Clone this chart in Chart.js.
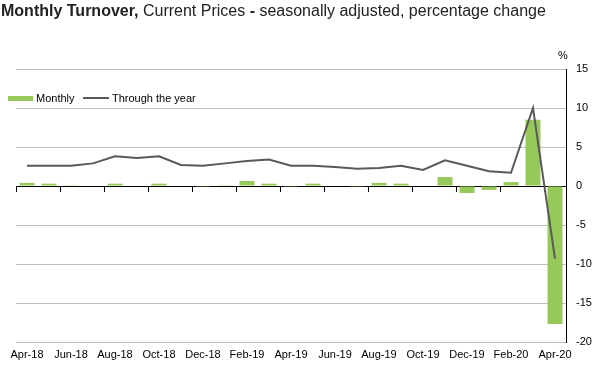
<!DOCTYPE html>
<html>
<head>
<meta charset="utf-8">
<script src="https://cdn.jsdelivr.net/npm/chart.js@4.4.0/dist/chart.umd.min.js"></script>
<style>
  body { margin: 0; background: #fff; font-family: "Liberation Sans", Arial, sans-serif; }
  #wrap { position: relative; width: 616px; height: 371px; overflow: hidden; }
  #chart { position: absolute; left: 0; top: 0; }
  #title { position: absolute; left: 1px; top: 2px; font-size: 16px; line-height: 18px; color: #222; white-space: nowrap; }
  #title b { font-weight: bold; }
  #unit { position: absolute; left: 558px; top: 49px; font-size: 11px; line-height: 12px; color: #000; }
  .lg { position: absolute; font-size: 11px; line-height: 12px; color: #000; white-space: nowrap; }
  .sw { position: absolute; }
</style>
</head>
<body>
<div id="wrap">
  <canvas id="chart" width="616" height="371"></canvas>
  <div id="title"><b>Monthly Turnover,</b> Current Prices <b>-</b> seasonally adjusted, percentage change</div>
  <div id="unit">%</div>
  <div class="sw" style="left:8px;top:96px;width:25px;height:5px;background:#96c85a"></div>
  <div class="lg" style="left:36px;top:92px">Monthly</div>
  <div class="sw" style="left:83px;top:97px;width:26px;height:2px;background:#595959"></div>
  <div class="lg" style="left:112px;top:92px">Through the year</div>
</div>
<script>
// months shown on the axis
const months = ['Apr-18','May-18','Jun-18','Jul-18','Aug-18','Sep-18','Oct-18','Nov-18','Dec-18',
  'Jan-19','Feb-19','Mar-19','Apr-19','May-19','Jun-19','Jul-19','Aug-19','Sep-19','Oct-19','Nov-19','Dec-19',
  'Jan-20','Feb-20','Mar-20','Apr-20'];

// monthly % change (bars)
const monthly = [0.4, 0.3, 0.1, 0, 0.3, 0, 0.3, 0, -0.1, 0.1, 0.65, 0.3, -0.1,
  0.3, 0, -0.1, 0.4, 0.3, 0, 1.15, -0.9, -0.5, 0.5, 8.5, -17.7];

// through the year % change (line)
const throughYear = [2.6, 2.6, 2.6, 2.9, 3.8, 3.6, 3.8, 2.7, 2.6, 2.9, 3.2, 3.4, 2.6,
  2.6, 2.45, 2.2, 2.3, 2.6, 2.05, 3.3, 2.6, 1.9, 1.7, 10.0, -9.3];

const yMin = -20, yMax = 15, yStep = 5;

const tickFont = { family: '"Liberation Sans", Arial, sans-serif', size: 11 };

new Chart(document.getElementById('chart'), {
  data: {
    labels: months,
    datasets: [
      { type: 'line', label: 'Through the year', data: throughYear, borderColor: '#595959', borderWidth: 2,
        pointRadius: 0, tension: 0, order: 0, xAxisID: 'x', yAxisID: 'y' },
      { type: 'bar', label: 'Monthly', data: monthly, backgroundColor: '#96c85a', borderWidth: 0,
        barPercentage: 0.68, categoryPercentage: 1, order: 1, xAxisID: 'x', yAxisID: 'y' }
    ]
  },
  options: {
    responsive: false,
    animation: false,
    layout: { padding: { left: 16, top: 69, right: 0, bottom: 0 } },
    plugins: { legend: { display: false }, tooltip: { enabled: false } },
    scales: {
      x: {
        type: 'category',
        position: { y: 0 },
        offset: true,
        grid: { drawOnChartArea: false, offset: true, tickLength: 5, tickWidth: 1,
          tickColor: c => c.index % 2 === 0 ? '#000' : 'rgba(0,0,0,0)' },
        border: { color: '#000', width: 1 },
        ticks: { display: false, autoSkip: false }
      },
      xl: {
        type: 'category',
        position: 'bottom',
        offset: true,
        grid: { display: false, drawTicks: false },
        border: { display: false },
        ticks: { autoSkip: false, maxRotation: 0, padding: 6, color: '#000', font: tickFont,
          callback: (v, i) => i % 2 === 0 ? months[i] : '' },
        afterFit: s => { s.height = 29; }
      },
      y: {
        position: 'right',
        min: yMin, max: yMax,
        grid: { drawTicks: false, color: c => c.tick.value === 0 ? '#000' : '#bdbdbd' },
        border: { display: true, color: '#000', width: 1 },
        ticks: { stepSize: yStep, padding: 10, color: '#000', font: tickFont },
        afterFit: s => { s.width = 50; }
      }
    }
  }
});
</script>
</body>
</html>
